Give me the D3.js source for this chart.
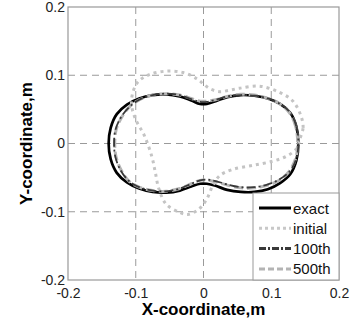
<!DOCTYPE html>
<html>
<head>
<meta charset="utf-8">
<script src="https://cdn.jsdelivr.net/npm/d3@7"></script>
<style>
  body { margin: 0; background: #fff; }
  svg { font-family: Arial, "Liberation Sans", sans-serif; }
</style>
</head>
<body>
<svg id="chart" width="351" height="324"></svg>
<script>
// Data (x, y in metres), closed contours
const exactPts = [
  [0.140, 0.000], [0.137, 0.025], [0.128, 0.045], [0.113, 0.058], [0.095, 0.066],
  [0.075, 0.070], [0.055, 0.071], [0.035, 0.068], [0.018, 0.062], [0.005, 0.058],
  [-0.005, 0.058], [-0.018, 0.063], [-0.035, 0.069], [-0.055, 0.072], [-0.075, 0.071],
  [-0.095, 0.066], [-0.113, 0.057], [-0.128, 0.043], [-0.137, 0.023], [-0.140, 0.000],
  [-0.137, -0.023], [-0.128, -0.043], [-0.113, -0.057], [-0.095, -0.066], [-0.075, -0.071],
  [-0.055, -0.072], [-0.035, -0.069], [-0.018, -0.063], [-0.005, -0.059], [0.005, -0.059],
  [0.018, -0.062], [0.035, -0.068], [0.055, -0.071], [0.075, -0.071], [0.095, -0.067],
  [0.113, -0.058], [0.128, -0.045], [0.137, -0.025]
];

const initialPts = [
  [0.142, 0.006], [0.147, 0.023], [0.144, 0.040], [0.132, 0.062], [0.112, 0.075],
  [0.083, 0.084], [0.053, 0.081], [0.038, 0.078], [0.024, 0.076], [0.010, 0.080],
  [0.000, 0.087], [-0.010, 0.095], [-0.030, 0.104], [-0.055, 0.106], [-0.080, 0.101],
  [-0.097, 0.090], [-0.105, 0.072], [-0.106, 0.055], [-0.100, 0.035], [-0.087, 0.011],
  [-0.076, -0.020], [-0.071, -0.043], [-0.066, -0.066], [-0.055, -0.089], [-0.035, -0.101],
  [-0.023, -0.104], [-0.008, -0.097], [0.004, -0.083], [0.014, -0.061], [0.024, -0.047],
  [0.043, -0.038], [0.073, -0.032], [0.102, -0.026], [0.122, -0.019], [0.137, -0.008]
];

const iter100Pts = [
  [0.140, 0.000], [0.137, 0.025], [0.128, 0.045], [0.113, 0.058], [0.095, 0.066],
  [0.075, 0.070], [0.055, 0.071], [0.035, 0.069], [0.018, 0.064], [0.005, 0.061],
  [-0.005, 0.061], [-0.018, 0.065], [-0.035, 0.071], [-0.055, 0.073], [-0.075, 0.071],
  [-0.095, 0.064], [-0.110, 0.053], [-0.122, 0.038], [-0.130, 0.020], [-0.132, 0.000],
  [-0.130, -0.020], [-0.122, -0.040], [-0.110, -0.055], [-0.095, -0.064], [-0.075, -0.069],
  [-0.055, -0.070], [-0.035, -0.066], [-0.018, -0.059], [-0.005, -0.054], [0.005, -0.053],
  [0.018, -0.055], [0.035, -0.060], [0.055, -0.064], [0.075, -0.064], [0.095, -0.060],
  [0.113, -0.052], [0.128, -0.040], [0.137, -0.022]
];

const iter500Pts = [
  [0.139, 0.000], [0.136, 0.025], [0.127, 0.045], [0.113, 0.058], [0.095, 0.066],
  [0.075, 0.071], [0.055, 0.072], [0.035, 0.069], [0.018, 0.064], [0.005, 0.062],
  [-0.005, 0.062], [-0.018, 0.066], [-0.035, 0.071], [-0.055, 0.073], [-0.075, 0.071],
  [-0.095, 0.064], [-0.110, 0.053], [-0.121, 0.038], [-0.129, 0.020], [-0.131, 0.000],
  [-0.129, -0.020], [-0.121, -0.040], [-0.110, -0.055], [-0.095, -0.064], [-0.075, -0.069],
  [-0.055, -0.070], [-0.035, -0.066], [-0.018, -0.059], [-0.005, -0.054], [0.005, -0.054],
  [0.018, -0.056], [0.035, -0.061], [0.055, -0.065], [0.075, -0.065], [0.095, -0.061],
  [0.113, -0.053], [0.127, -0.040], [0.136, -0.022]
];

const seriesNames = ["exact", "initial", "100th", "500th"];
const tickValues = [-0.2, -0.1, 0, 0.1, 0.2];
const tickLabels = ["-0.2", "-0.1", "0", "0.1", "0.2"];

// Layout
const margin = { top: 7, right: 12, bottom: 44, left: 68 };
const width = 351 - margin.left - margin.right;
const height = 324 - margin.top - margin.bottom;

const svg = d3.select("#chart");
const g = svg.append("g")
  .attr("transform", "translate(" + margin.left + "," + margin.top + ")");

const xScale = d3.scaleLinear().domain([-0.2, 0.2]).range([0, width]);
const yScale = d3.scaleLinear().domain([-0.2, 0.2]).range([height, 0]);

// Grid lines
const gridVals = [-0.1, 0, 0.1];
g.selectAll(".vgrid").data(gridVals).enter().append("line")
  .attr("x1", d => xScale(d)).attr("x2", d => xScale(d))
  .attr("y1", 0).attr("y2", height)
  .attr("stroke", "#9a9a9a").attr("stroke-width", 1)
  .attr("stroke-dasharray", "7,5");
g.selectAll(".hgrid").data(gridVals).enter().append("line")
  .attr("y1", d => yScale(d)).attr("y2", d => yScale(d))
  .attr("x1", 0).attr("x2", width)
  .attr("stroke", "#9a9a9a").attr("stroke-width", 1)
  .attr("stroke-dasharray", "7,5");

// Curves
const line = d3.line()
  .x(d => xScale(d[0]))
  .y(d => yScale(d[1]))
  .curve(d3.curveCatmullRomClosed.alpha(0.5));

const styles = [
  { data: exactPts, color: "#000000", w: 2.7, dash: null },
  { data: initialPts, color: "#c4c4c4", w: 3, dash: "3,4" },
  { data: iter500Pts, color: "#b4b4b4", w: 3, dash: "9,4" },
  { data: iter100Pts, color: "#3a3a3a", w: 1.8, dash: "9,3,2,3" }
];

styles.forEach(s => {
  g.append("path")
    .datum(s.data)
    .attr("d", line)
    .attr("fill", "none")
    .attr("stroke", s.color)
    .attr("stroke-width", s.w)
    .attr("stroke-dasharray", s.dash);
});

// Axes box
g.append("rect")
  .attr("width", width).attr("height", height)
  .attr("fill", "none").attr("stroke", "#999").attr("stroke-width", 1.2);

// Tick labels
const xAxis = d3.axisBottom(xScale)
  .tickValues(tickValues)
  .tickSize(0)
  .tickPadding(8)
  .tickFormat((d, i) => tickLabels[i]);
const yAxis = d3.axisLeft(yScale)
  .tickValues(tickValues)
  .tickSize(0)
  .tickPadding(3)
  .tickFormat((d, i) => tickLabels[i]);

g.append("g")
  .attr("transform", "translate(0," + height + ")")
  .call(xAxis)
  .call(a => a.select(".domain").remove())
  .selectAll("text")
  .attr("font-size", 14).attr("fill", "#222")
  .attr("font-family", "Arial, 'Liberation Sans', sans-serif");

g.append("g")
  .call(yAxis)
  .call(a => a.select(".domain").remove())
  .selectAll("text")
  .attr("font-size", 14).attr("fill", "#222")
  .attr("font-family", "Arial, 'Liberation Sans', sans-serif");

// Axis titles
svg.append("text")
  .attr("x", margin.left + width / 2)
  .attr("y", 315)
  .attr("text-anchor", "middle")
  .attr("font-size", 17).attr("font-weight", "bold")
  .text("X-coordinate,m");

svg.append("text")
  .attr("transform", "translate(32," + (margin.top + height / 2) + ") rotate(-90)")
  .attr("text-anchor", "middle")
  .attr("font-size", 17).attr("font-weight", "bold")
  .text("Y-coordinate,m");

// Legend
const legW = 86, legH = 87;
const legend = g.append("g")
  .attr("transform", "translate(" + (width - legW) + "," + (height - legH) + ")");
legend.append("rect")
  .attr("width", legW).attr("height", legH)
  .attr("fill", "#fff").attr("stroke", "#999").attr("stroke-width", 1);

const legStyles = [
  { color: "#000000", w: 3, dash: null },
  { color: "#c8c8c8", w: 3, dash: "3,3" },
  { color: "#3a3a3a", w: 3, dash: "7,2,2,2" },
  { color: "#b4b4b4", w: 3, dash: "6,3" }
];
seriesNames.forEach((name, i) => {
  const y = 15 + i * 20.3;
  const s = legStyles[i];
  legend.append("line")
    .attr("x1", 6).attr("x2", 38)
    .attr("y1", y).attr("y2", y)
    .attr("stroke", s.color)
    .attr("stroke-width", s.w)
    .attr("stroke-dasharray", s.dash);
  legend.append("text")
    .attr("x", 40).attr("y", y + 5.5)
    .attr("font-size", 15).attr("fill", "#111")
    .text(name);
});
</script>
</body>
</html>
